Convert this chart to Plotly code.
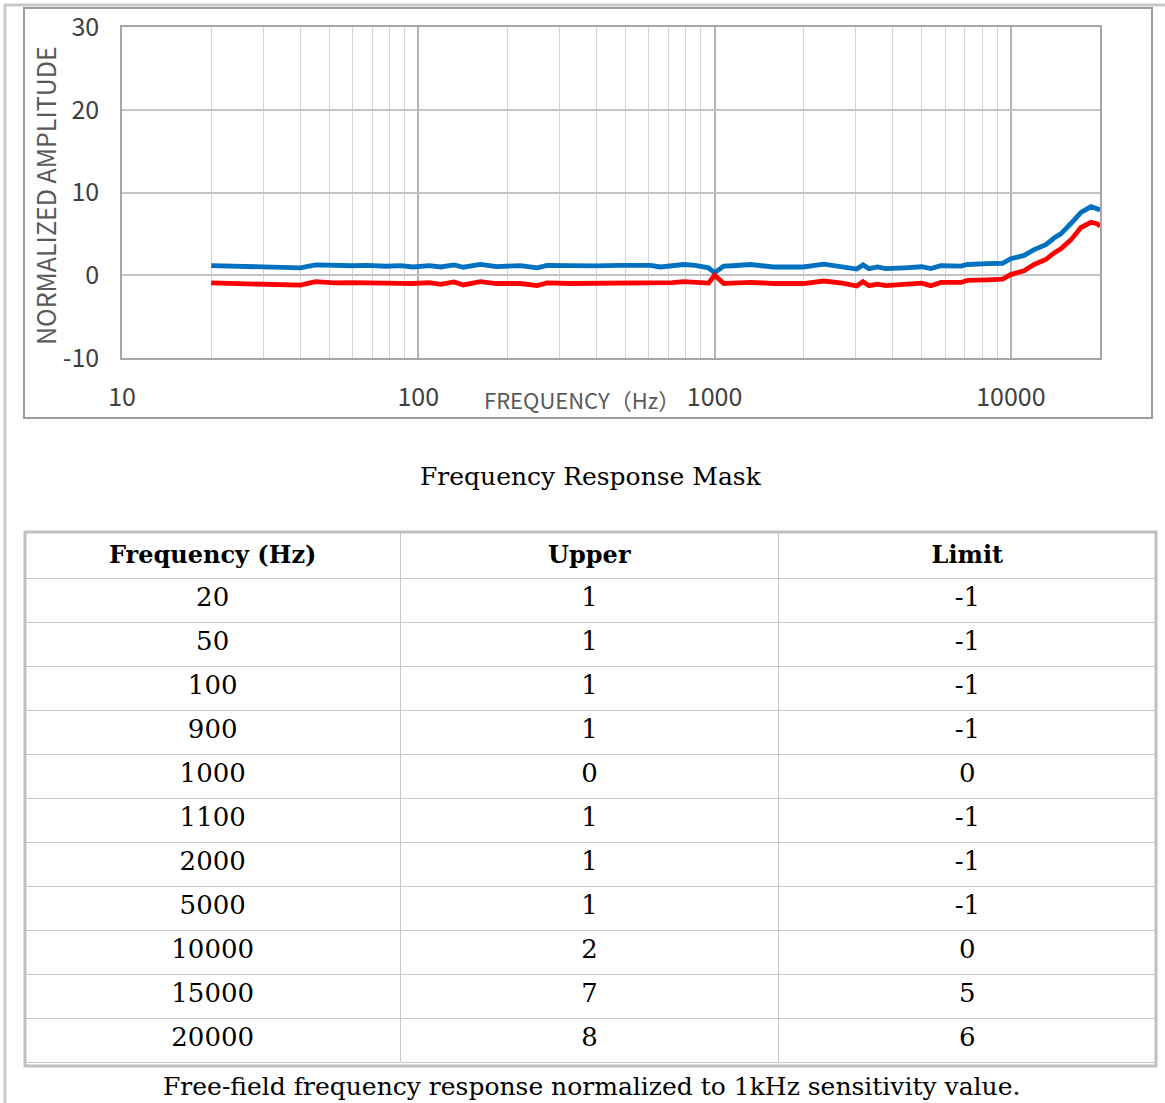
import plotly.graph_objects as go

# ---------------- data ----------------
freq = [20, 24, 31, 36, 40, 45, 52, 60, 67, 78, 87, 96, 109, 119, 132, 142, 162, 184,
        221, 252, 272, 327, 392, 482, 562, 608, 657, 720, 788, 860, 920, 955, 1000,
        1075, 1150, 1320, 1580, 1995, 2340, 2700, 3020, 3170, 3320, 3550, 3785, 4370,
        5000, 5370, 5810, 6780, 7140, 8340, 9380, 10000, 11090, 11990, 13130, 14000,
        14750, 15950, 17250, 18640, 19630, 20000]

upper = [1.17, 1.09, 1.09, 1.0, 0.89, 1.25, 1.13, 1.15, 1.2, 1.09, 1.17, 1.0, 1.17, 1.0,
         1.25, 0.97, 1.3, 1.05, 1.17, 0.89, 1.2, 1.13, 1.13, 1.2, 1.17, 1.2, 1.0, 1.15,
         1.3, 1.2, 1.1, 0.9, 0.3, 1.1, 1.15, 1.3, 1.0, 1.0, 1.35, 1.05, 0.75, 1.25, 0.8,
         1.0, 0.8, 0.9, 1.03, 0.8, 1.15, 1.1, 1.3, 1.4, 1.45, 2.0, 2.4, 3.1, 3.7, 4.5,
         5.0, 6.25, 7.6, 8.3, 8.1, 7.9]

lower = [-0.93, -1.0, -1.0, -1.1, -1.2, -0.77, -0.93, -0.9, -0.89, -0.95, -0.97, -1.0,
         -0.89, -1.09, -0.8, -1.17, -0.77, -1.0, -1.0, -1.25, -0.93, -1.0, -1.0, -0.97,
         -0.93, -0.95, -1.0, -0.9, -0.77, -0.85, -0.93, -0.95, 0.0, -1.0, -0.95, -0.85,
         -1.0, -1.0, -0.7, -0.95, -1.3, -0.77, -1.26, -1.07, -1.26, -1.07, -0.95, -1.26,
         -0.87, -0.87, -0.63, -0.55, -0.47, 0.08, 0.55, 1.3, 1.9, 2.7, 3.2, 4.27, 5.77,
         6.4, 6.2, 5.9]

x_tick_vals = [10, 100, 1000, 10000]
x_tick_text = ["10", "100", "1000", "10000"]
x_minor_vals = [20, 30, 40, 50, 60, 70, 80, 90,
                200, 300, 400, 500, 600, 700, 800, 900,
                2000, 3000, 4000, 5000, 6000, 7000, 8000, 9000]
y_tick_vals = [-10, 0, 10, 20, 30]
y_tick_text = ["-10", "0", "10", "20", "30"]

table_header = ["Frequency (Hz)", "Upper", "Limit"]
table_freq = ["20", "50", "100", "900", "1000", "1100", "2000", "5000", "10000", "15000", "20000"]
table_upper = ["1", "1", "1", "1", "0", "1", "1", "1", "2", "7", "8"]
table_limit = ["-1", "-1", "-1", "-1", "0", "-1", "-1", "-1", "0", "5", "6"]

chart_caption = "Frequency Response Mask"
table_caption = "Free-field frequency response normalized to 1kHz sensitivity value."

# ---------------- figure ----------------
W, H = 1165, 1103


def px(x):
    return x / W


def py(y):
    return 1 - y / H


fig = go.Figure()

fig.add_trace(go.Scatter(x=freq, y=upper, mode="lines", name="Upper",
                         line=dict(color="#0070C0", width=4.8), showlegend=False))
fig.add_trace(go.Scatter(x=freq, y=lower, mode="lines", name="Lower",
                         line=dict(color="#FF0000", width=4.8), showlegend=False))

serif = "DejaVu Serif"
fig.add_trace(go.Table(
    domain=dict(x=[px(25), px(1156)], y=[py(1066), py(532)]),
    columnwidth=[375, 378, 377],
    header=dict(values=["<b>%s</b>" % h for h in table_header],
                font=dict(family=serif, size=24, color="#000000"),
                height=46, align="center",
                fill_color="white", line=dict(color="#c8c8c8", width=1)),
    cells=dict(values=[table_freq, table_upper, table_limit],
               font=dict(family=serif, size=26, color="#000000"),
               height=44, align="center",
               fill_color="white", line=dict(color="#c8c8c8", width=1)),
))

tick_font = dict(family="Noto Sans CJK SC", size=25, color="#404040")

fig.update_layout(
    width=W, height=H,
    margin=dict(l=0, r=0, t=0, b=0, pad=0, autoexpand=False),
    paper_bgcolor="white", plot_bgcolor="white",
    xaxis=dict(
        type="log", range=[1, 4.301], automargin=False,
        domain=[px(122), px(1100)],
        tickvals=x_tick_vals, ticktext=x_tick_text,
        tickfont=tick_font, ticks="", ticklabelstandoff=16,
        showgrid=True, gridcolor="#b4b4b4", gridwidth=1.5,
        minor=dict(tickvals=x_minor_vals, showgrid=True, gridcolor="#d4d4d4", gridwidth=1, ticks=""),
        showline=True, linecolor="#a6a6a6", linewidth=1.5, mirror=True,
        zeroline=False, fixedrange=True,
    ),
    yaxis=dict(
        range=[-10, 30], automargin=False,
        domain=[py(358), py(27)],
        tickvals=y_tick_vals, ticktext=y_tick_text,
        tickfont=tick_font, ticks="", ticklabelstandoff=16,
        showgrid=True, gridcolor="#c4c4c4", gridwidth=1.5,
        showline=True, linecolor="#a6a6a6", linewidth=1.5, mirror=True,
        zeroline=False, fixedrange=True,
    ),
    shapes=[
        # outer page frame
        dict(type="line", xref="paper", yref="paper", x0=px(5), x1=px(5), y0=py(4), y1=py(1103),
             line=dict(color="#c8c8c8", width=3)),
        dict(type="line", xref="paper", yref="paper", x0=px(4), x1=px(1165), y0=py(5), y1=py(5),
             line=dict(color="#c8c8c8", width=3)),
        # chart box
        dict(type="rect", xref="paper", yref="paper", x0=px(24), x1=px(1152), y0=py(418), y1=py(8),
             line=dict(color="#9c9c9c", width=2), layer="below"),
        # table outer border
        dict(type="rect", xref="paper", yref="paper", x0=px(25), x1=px(1156), y0=py(1066), y1=py(532),
             line=dict(color="#c0c0c0", width=3), layer="above"),
    ],
    annotations=[
        dict(text="NORMALIZED AMPLITUDE", textangle=-90, xref="paper", yref="paper",
             x=px(45), y=py(196), showarrow=False, xanchor="center", yanchor="middle",
             font=dict(family="Noto Sans CJK SC", size=25, color="#595959")),
        dict(text="FREQUENCY（Hz）", xref="paper", yref="paper",
             x=px(582), y=py(399), showarrow=False, xanchor="center", yanchor="middle",
             font=dict(family="Noto Sans CJK SC", size=22, color="#595959")),
        dict(text=chart_caption, xref="paper", yref="paper",
             x=px(591), y=py(476), showarrow=False, xanchor="center", yanchor="middle",
             font=dict(family=serif, size=25, color="#000000")),
        dict(text=table_caption, xref="paper", yref="paper",
             x=px(591), y=py(1086), showarrow=False, xanchor="center", yanchor="middle",
             font=dict(family=serif, size=25, color="#000000")),
    ],
)

fig.write_html("out.html", config={"displayModeBar": False},
               post_script="document.body.style.margin='0';")
